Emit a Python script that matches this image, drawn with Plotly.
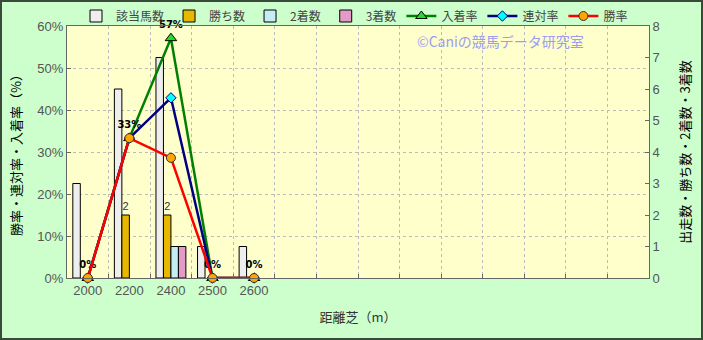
import plotly.graph_objects as go

# ---- data ----
distances = ["2000", "2200", "2400", "2500", "2600"]
pad_categories = [" " * i for i in range(1, 10)]  # empty slots on the axis
runners = [3, 6, 7, 1, 1]          # 該当馬数
wins = [0, 2, 2, 0, 0]             # 勝ち数
seconds = [0, 0, 1, 0, 0]          # 2着数
thirds = [0, 0, 1, 0, 0]           # 3着数
place_rate = [0.0, 0.333, 0.571, 0.0, 0.0]   # 入着率
quinella_rate = [0.0, 0.333, 0.429, 0.0, 0.0]  # 連対率
win_rate = [0.0, 0.333, 0.286, 0.0, 0.0]     # 勝率
place_labels = ["0%", "33%", "57%", "0%", "0%"]

W, H = 703, 340
ml, mr, mt, mb = 67, 54, 26, 62
pw, ph = W - ml - mr, H - mt - mb

font_fam = "Liberation Sans, Noto Sans CJK JP, sans-serif"
jp_fam = "Noto Sans CJK JP, sans-serif"

fig = go.Figure()


def nonzero(values):
    # zero counts draw no bar at all
    return [v if v > 0 else None for v in values]


bar_line = dict(color="#000000", width=1)
fig.add_trace(go.Bar(x=distances, y=nonzero(runners), name="該当馬数", yaxis="y",
                     marker=dict(color="#EEEEEE", line=bar_line)))
fig.add_trace(go.Bar(x=distances, y=nonzero(wins), name="勝ち数", yaxis="y",
                     marker=dict(color="#E8B800", line=bar_line),
                     text=[str(v) if v > 0 else "" for v in wins],
                     textposition="outside", cliponaxis=False,
                     textfont=dict(size=11, color="#333333", family=font_fam)))
fig.add_trace(go.Bar(x=distances, y=nonzero(seconds), name="2着数", yaxis="y",
                     marker=dict(color="#C4EEF4", line=bar_line)))
fig.add_trace(go.Bar(x=distances, y=nonzero(thirds), name="3着数", yaxis="y",
                     marker=dict(color="#E49AC6", line=bar_line)))

fig.add_trace(go.Scatter(x=distances, y=place_rate, name="入着率", yaxis="y2",
                         mode="lines+markers+text", text=place_labels,
                         textposition="top center", cliponaxis=False,
                         textfont=dict(size=10, color="#000000", family="DejaVu Sans",
                                       weight="bold"),
                         line=dict(color="#008000", width=2.5),
                         marker=dict(symbol="triangle-up", size=10, color="#22DD22",
                                     line=dict(color="#000000", width=1))))
fig.add_trace(go.Scatter(x=distances, y=quinella_rate, name="連対率", yaxis="y2",
                         mode="lines+markers", cliponaxis=False,
                         line=dict(color="#000080", width=2.5),
                         marker=dict(symbol="diamond", size=8, color="#00FFFF",
                                     line=dict(color="#000080", width=1))))
fig.add_trace(go.Scatter(x=distances, y=win_rate, name="勝率", yaxis="y2",
                         mode="lines+markers", cliponaxis=False,
                         line=dict(color="#FF0000", width=2.5),
                         marker=dict(symbol="circle", size=9, color="#FFA500",
                                     line=dict(color="#333333", width=1))))

fig.update_layout(
    width=W, height=H,
    margin=dict(l=ml, r=mr, t=mt, b=mb, pad=0, autoexpand=False),
    paper_bgcolor="#CCFFCC", plot_bgcolor="#FFFFCC",
    barmode="group", bargap=0.28, bargroupgap=0,
    font=dict(family=font_fam, size=12, color="#555555"),
    showlegend=True,
    legend=dict(orientation="h", x=(76 - ml) / pw, xanchor="left", y=1 + 10 / ph,
                yanchor="middle", bgcolor="rgba(0,0,0,0)",
                font=dict(size=12, color="#444444", family=jp_fam),
                itemwidth=30, tracegroupgap=0, traceorder="normal"),
    xaxis=dict(type="category", categoryorder="array",
               categoryarray=distances + pad_categories,
               range=[-0.5, len(distances) + len(pad_categories) - 0.5],
               tickson="boundaries", ticks="inside", ticklen=4, tickcolor="#666666",
               showgrid=True, gridcolor="#BBBBBB", griddash="dot", gridwidth=1,
               showline=True, linecolor="#666666", linewidth=1, mirror=True,
               tickfont=dict(size=13, color="#555555"),
               title=dict(text="距離芝（m）", standoff=16,
                          font=dict(size=13, color="#333333", family=jp_fam))),
    yaxis=dict(side="right", range=[0, 8], dtick=1, showgrid=False,
               ticks="inside", ticklen=4, tickcolor="#666666",
               showline=True, linecolor="#666666", linewidth=1,
               tickfont=dict(size=13, color="#555555"), zeroline=False,
               title=dict(text="出走数・勝ち数・2着数・3着数", standoff=22,
                          font=dict(size=13, color="#000000", family=jp_fam))),
    yaxis2=dict(side="left", overlaying="y", range=[0, 0.6], dtick=0.1, tickformat=".0%",
                showgrid=True, gridcolor="#BBBBBB", griddash="dot", gridwidth=1,
                ticks="inside", ticklen=4, tickcolor="#666666",
                showline=True, linecolor="#666666", linewidth=1, zeroline=False,
                tickfont=dict(size=13, color="#555555"),
                title=dict(text="勝率・連対率・入着率（%）", standoff=12,
                           font=dict(size=13, color="#000000", family=jp_fam))),
    annotations=[dict(text="©Caniの競馬データ研究室", xref="paper", yref="paper",
                      x=(500 - ml) / pw, y=1 - (41 - mt) / ph, showarrow=False,
                      xanchor="center", yanchor="middle",
                      font=dict(size=14, color="#9C9CF0", family=jp_fam))],
    shapes=[dict(type="rect", xref="paper", yref="paper",
                 x0=-(ml - 1) / pw, x1=1 + (mr - 1) / pw,
                 y0=-(mb - 1) / ph, y1=1 + (mt - 1) / ph,
                 line=dict(color="#3A4A3A", width=2), fillcolor="rgba(0,0,0,0)")],
)

fig.write_html("out.html")
